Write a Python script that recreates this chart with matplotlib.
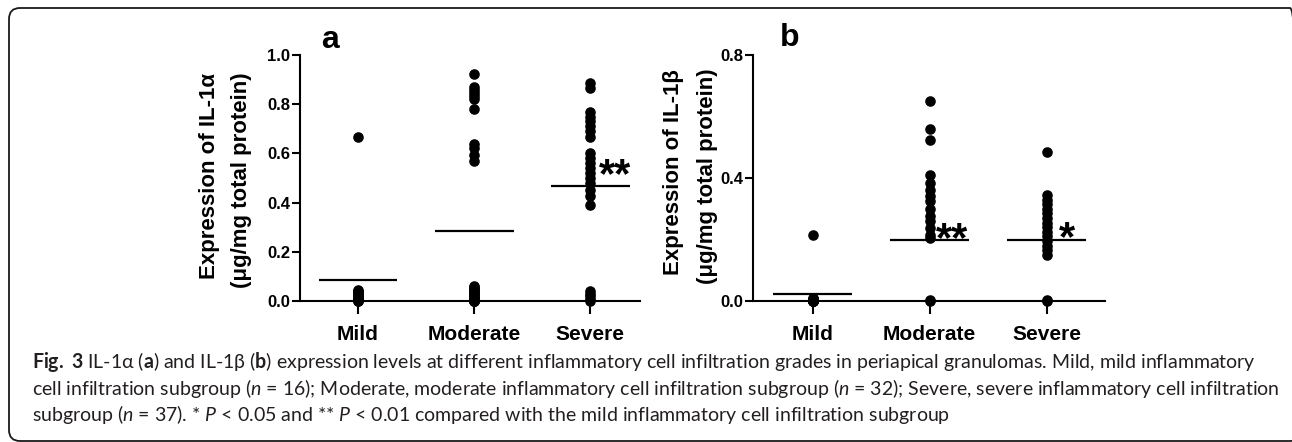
import matplotlib
matplotlib.use("Agg")
import matplotlib.pyplot as plt
from matplotlib.patches import FancyBboxPatch

# ---------------- data ----------------
categories = ["Mild", "Moderate", "Severe"]

il1a_mild = [0.665, 0.045, 0.04, 0.036, 0.032, 0.028, 0.024, 0.02, 0.016,
             0.013, 0.01, 0.007, 0.005, 0.003, 0.001, 0.0]
il1a_moderate = [0.924, 0.87, 0.858, 0.846, 0.834, 0.822, 0.782, 0.64, 0.62,
                 0.595, 0.568, 0.06, 0.055, 0.05, 0.045, 0.04, 0.035, 0.03,
                 0.026, 0.022, 0.018, 0.014, 0.01, 0.007, 0.004, 0.002, 0.0,
                 0.0, 0.001, 0.003, 0.005, 0.008]
il1a_severe = [0.886, 0.866, 0.77, 0.75, 0.73, 0.71, 0.69, 0.665, 0.60,
               0.58, 0.56, 0.54, 0.52, 0.50, 0.48, 0.453, 0.425, 0.392,
               0.04, 0.03, 0.02, 0.01, 0.0]
il1a_means = [0.087, 0.285, 0.466]

il1b_mild = [0.2135, 0.01, 0.008, 0.006, 0.005, 0.004, 0.003, 0.002, 0.001,
             0.0, 0.0, 0.0, 0.0, 0.0, 0.0, 0.0]
il1b_moderate = [0.652, 0.56, 0.522, 0.409, 0.384, 0.36, 0.34, 0.324, 0.30,
                 0.275, 0.259, 0.237, 0.216, 0.205, 0.004, 0.0]
il1b_severe = [0.483, 0.346, 0.33, 0.315, 0.30, 0.285, 0.27, 0.255, 0.24,
               0.225, 0.21, 0.195, 0.18, 0.165, 0.151, 0.004, 0.0]
il1b_means = [0.023, 0.197, 0.200]

stars_a = ["", "", "**"]
stars_b = ["", "**", "*"]

ylabel_a = ["Expression of IL-1α", "(μg/mg total protein)"]
ylabel_b = ["Expression of IL-1β", "(μg/mg total protein)"]
yticks_a = [0.0, 0.2, 0.4, 0.6, 0.8, 1.0]
yticks_b = [0.0, 0.4, 0.8]

caption_lines = [
    r"$\mathbf{Fig.\ 3}$ IL-1α ($\mathbf{a}$) and IL-1β ($\mathbf{b}$) expression levels at different inflammatory cell infiltration grades in periapical granulomas. Mild, mild inflammatory",
    r"cell infiltration subgroup ($\mathit{n}$ = 16); Moderate, moderate inflammatory cell infiltration subgroup ($\mathit{n}$ = 32); Severe, severe inflammatory cell infiltration",
    r"subgroup ($\mathit{n}$ = 37). * $\mathit{P}$ < 0.05 and ** $\mathit{P}$ < 0.01 compared with the mild inflammatory cell infiltration subgroup",
]

# ---------------- style ----------------
W, H = 1292, 442
plt.rcParams["font.family"] = ["Liberation Sans", "DejaVu Sans"]
plt.rcParams["mathtext.fontset"] = "custom"
plt.rcParams["mathtext.rm"] = "Lato"
plt.rcParams["mathtext.bf"] = "Lato:bold"
plt.rcParams["mathtext.it"] = "Lato:italic"

fig = plt.figure(figsize=(W / 100, H / 100), dpi=100)
fig.patch.set_facecolor("white")

# rounded border (pixel coordinates, y measured from the bottom)
border = FancyBboxPatch((9, 1), 1301 - 9, 434 - 1,
                        boxstyle="round,pad=0,rounding_size=11",
                        transform=None, fill=False,
                        edgecolor="#1a1a1a", linewidth=1.3, clip_on=False)
fig.patches.append(border)


def px_axes(x0, x1, ytop, ybot):
    return fig.add_axes([x0 / W, (H - ybot) / H, (x1 - x0) / W, (ybot - ytop) / H])


def draw_panel(ax, groups, means, stars, ymax, yticks, star_dx, star_dy):
    for i, vals in enumerate(groups):
        ax.plot([i] * len(vals), vals, "o", color="black", markersize=6.6,
                clip_on=False, zorder=5)
        ax.plot([i - 0.34, i + 0.34], [means[i], means[i]], color="black",
                linewidth=1.6, solid_capstyle="butt", zorder=4, clip_on=False)
        if stars[i]:
            ax.text(i + star_dx[i], means[i] + star_dy[i], stars[i], fontsize=30,
                    fontweight="bold", ha="left", va="baseline")
    ax.set_ylim(0, ymax)
    ax.set_yticks(yticks)
    ax.set_yticklabels([f"{t:.1f}" for t in yticks], fontsize=12, fontweight="bold")
    ax.set_xticks(range(len(categories)))
    ax.set_xticklabels(categories, fontsize=15, fontweight="bold")
    for s in ["top", "right"]:
        ax.spines[s].set_visible(False)
    for s in ["left", "bottom"]:
        ax.spines[s].set_linewidth(1.5)
    ax.tick_params(axis="y", direction="out", length=6, width=1.5, pad=1)
    ax.tick_params(axis="x", direction="out", length=9.5, width=1.5, pad=8)
    ax.set_facecolor("none")


axa = px_axes(300, 640, 55, 301)
axa.set_xlim(-0.5, 2.43)
draw_panel(axa, [il1a_mild, il1a_moderate, il1a_severe], il1a_means, stars_a,
           1.0, yticks_a, [0, 0, 0.08], [0, 0, -0.002])

axb = px_axes(753, 1105, 55, 301)
axb.set_xlim(-0.51, 2.5)
draw_panel(axb, [il1b_mild, il1b_moderate, il1b_severe], il1b_means, stars_b,
           0.8, yticks_b, [0, 0.055, 0.11], [0, -0.034, -0.034])

# y labels (two lines each)
fig.text(209 / W, (H - 176) / H, ylabel_a[0], rotation=90, ha="center", va="center",
         fontsize=16, fontweight="bold")
fig.text(242 / W, (H - 180) / H, ylabel_a[1], rotation=90, ha="center", va="center",
         fontsize=16, fontweight="bold")
fig.text(673 / W, (H - 172) / H, ylabel_b[0], rotation=90, ha="center", va="center",
         fontsize=16, fontweight="bold")
fig.text(707 / W, (H - 176) / H, ylabel_b[1], rotation=90, ha="center", va="center",
         fontsize=16, fontweight="bold")

# panel letters
fig.text(330 / W, (H - 40) / H, "a", fontsize=23, fontweight="bold", ha="center", va="center")
fig.text(790 / W, (H - 38) / H, "b", fontsize=23, fontweight="bold", ha="center", va="center")

# caption
renderer = fig.canvas.get_renderer()
base = 12.0
t0 = fig.text(32 / W, (H - 362) / H, caption_lines[0], fontsize=base,
              family="Lato", color="#231f20", va="center", ha="left")
w0 = t0.get_window_extent(renderer).width
size = base * (1223 / w0)
t0.set_fontsize(size)
for k, line in enumerate(caption_lines[1:], start=1):
    fig.text(32 / W, (H - 362 - 26 * k) / H, line, fontsize=size,
             family="Lato", color="#231f20", va="center", ha="left")

fig.savefig("out.png", dpi=100, facecolor="white")
